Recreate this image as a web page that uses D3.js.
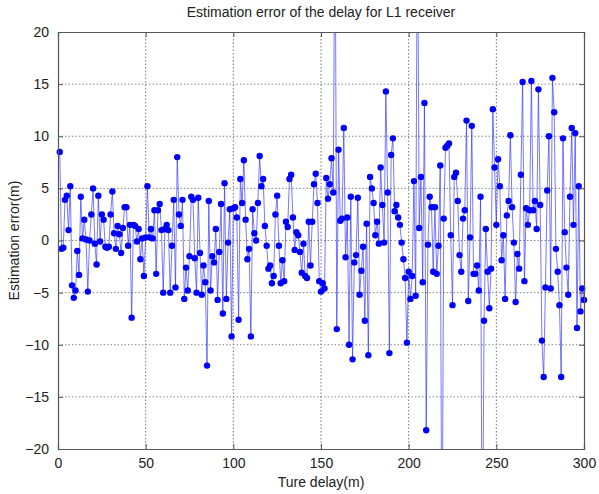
<!DOCTYPE html>
<html>
<head>
<meta charset="utf-8">
<script src="https://cdn.jsdelivr.net/npm/d3@7"></script>
<style>
    body { margin: 0; background: #fff; }
    svg text { font-family: "Liberation Sans", Arial, sans-serif; fill: #222; }
</style>
</head>
<body>
<div id="chart"></div>
<script>
// estimation error (m), one value per true delay step 1..300
// values beyond +/-20 are the spikes that leave the axes
const errA = [8.5, -0.8, -0.7, 3.9, 4.3, 1.0, 5.2, -4.3, -5.5, -4.8, -1.0, -3.3, 4.2, 0.2, 2.0, 0.1, -4.9, 0.0, 2.5, 5.0,
    -0.3, -2.3, 4.3, -0.1, 2.5, 2.0, -0.6, -0.7, -0.6, 2.5, 4.7, 0.7, -0.8, 1.4, 0.6, -1.2, 1.2, 3.2];          // 1..38
const errB = [3.2, -0.5, 1.5, -7.4, 1.5, 1.4, -0.1, 1.1, -1.8, 0.2, -3.4, 0.3, 5.2, 0.3, 1.1, 0.2, 2.9, -3.2, 2.9, 3.5,
    1.0, -5.0, 1.1, 1.5, 1.0, -5.0];                                                                             // 39..64
const errC = [-0.5, 3.9, -4.5, 8.0, 2.5, 1.4, 3.9, -5.6, -2.6, -4.8, -1.5, 4.2, 3.9, -1.7, -5.0, 4.1, -1.2, -5.2, -2.4, -4.0,
    -12.0, 3.8, -4.8, -1.5, -2.1, 1.1, -5.7, -1.1, 3.5, -7.0, 5.5, -5.6, -0.2, 3.0, -9.2, 3.1, 3.2, 2.2, -7.6, 5.9,
    3.6, 7.7, 2.0, -1.8, -0.8, -9.2, 3.0, 0.7, 0.0, 3.6, 8.1, 5.2, 5.9, 1.4, -0.5, -2.7, -2.4, -4.1, -3.4, 2.5,
    4.3, -0.5, -4.1];                                                                                            // 65..127
const errD = [-1.9, -3.9, 1.8, 1.3, 5.9, 6.3, 2.2, -0.9, 0.8];                                                    // 128..136
const errE = [0.5, -1.1, -3.1, -0.3, -3.4, -3.6, 1.8, -2.4, 1.8, 5.4, 6.4, 3.6, -3.9, -4.9, -4.1, -4.6, 6.0, 4.0, 5.4, 7.9,
    4.6, 35, -8.5, 8.7, 1.9, 2.1, 10.8, -1.6, 2.2, -10.0, 4.2, -11.4, -2.1, -1.4, 4.1, -5.2, -2.9, -0.6, -7.7, 1.6,
    -11.0, 6.1, 5.0, 3.6, 0.5, 1.8, -0.3, 7.0, 3.4, -0.2, 14.3, 4.6, -10.8, 8.2, 9.8, 2.8, 3.4, 2.2, 1.5, -0.2,
    -1.8, -3.6, -9.8, -3.0, -5.6, -3.4, 5.7, -5.3, 35, 1.2, 6.1, -4.0, 13.2, -18.2, -0.4, 4.2];               // 137..212
const errF = [3.2, -3.0, 3.2, -3.2, -0.5, 7.2, -35, 2.1, 8.9];                                                    // 213..221
const errG = [9.1, 9.3, 0.5, -6.2, 6.1, 6.5, 3.8, -1.4, -3.0, 2.1, 2.9, 11.5, -5.8, 0.3, 11.0, -3.2, -3.2, -2.4, -4.8, 4.2,
    -35, -7.7, 1.1, -3.0, -6.5, -2.7, 12.6, 7.0, 1.5, 7.8, 5.2, -1.9, 0.5, -5.6, 2.4, 3.8, 10.1];               // 222..258
const errH = [3.2, -0.2, -5.9, -1.3, -2.7, 6.3, 15.2, -3.9, 3.1, 1.5, 2.9, 15.3, 2.9, 3.8, 1.1, 14.5, 3.4, -9.6, -13.1, -4.5,
    4.8, 10.0, -4.6, 15.6, 12.3, -0.8, -3.0, -6.2, -13.1, 9.8, 0.8, -2.6, -5.2, 4.2, 10.8, 1.5, 10.3, -8.4, 5.2, -6.8,
    -4.6, -5.7];                                                                                                 // 259..300

const errors = [...errA, ...errB, ...errC, ...errD, ...errE, ...errF, ...errG, ...errH];
const delays = errors.map((d, i) => i + 1);

const xTicks = [0, 50, 100, 150, 200, 250, 300];
const yTicks = [-20, -15, -10, -5, 0, 5, 10, 15, 20];

const titleText = 'Estimation error of the delay for L1 receiver';
const xLabel = 'Ture delay(m)';
const yLabel = 'Estimation error(m)';

function drawChart() {
    const margin = { top: 32, right: 15, bottom: 45, left: 58 };
    const totalW = 599, totalH = 494;
    const width = totalW - margin.left - margin.right;
    const height = totalH - margin.top - margin.bottom;

    const svg = d3.select('#chart').append('svg')
        .attr('width', totalW)
        .attr('height', totalH);

    const g = svg.append('g')
        .attr('transform', `translate(${margin.left},${margin.top})`);

    const x = d3.scaleLinear().domain([0, 300]).range([0, width]);
    const y = d3.scaleLinear().domain([-20, 20]).range([height, 0]);

    // grid
    g.append('g').selectAll('line')
        .data(xTicks.slice(1, -1))
        .join('line')
        .attr('x1', d => x(d)).attr('x2', d => x(d))
        .attr('y1', 0).attr('y2', height)
        .attr('stroke', '#777')
        .attr('stroke-width', 1)
        .attr('stroke-dasharray', '1.5,2');

    g.append('g').selectAll('line')
        .data(yTicks.slice(1, -1))
        .join('line')
        .attr('x1', 0).attr('x2', width)
        .attr('y1', d => y(d)).attr('y2', d => y(d))
        .attr('stroke', '#888')
        .attr('stroke-width', 1)
        .attr('stroke-dasharray', '1.5,2');

    // data
    g.append('clipPath').attr('id', 'plotClip')
        .append('rect').attr('width', width).attr('height', height);

    const line = d3.line()
        .x((d, i) => x(delays[i]))
        .y(d => y(d));

    g.append('path')
        .datum(errors)
        .attr('clip-path', 'url(#plotClip)')
        .attr('fill', 'none')
        .attr('stroke', '#2a2aff')
        .attr('stroke-opacity', 0.7)
        .attr('stroke-width', 0.9)
        .attr('d', line);

    const pts = errors.map((d, i) => ({ x: delays[i], y: d })).filter(p => p.y >= -20 && p.y <= 20);
    g.append('g').selectAll('circle')
        .data(pts)
        .join('circle')
        .attr('cx', d => x(d.x))
        .attr('cy', d => y(d.y))
        .attr('r', 3.2)
        .attr('fill', '#0000ff');

    // axes (ticks inside, like matlab)
    const axisColor = '#555';
    const xAxisB = g.append('g').attr('transform', `translate(0,${height})`)
        .call(d3.axisBottom(x).tickValues(xTicks).tickSize(-5).tickPadding(9));
    const xAxisT = g.append('g')
        .call(d3.axisTop(x).tickValues(xTicks).tickSize(-5).tickFormat(''));
    const yAxisL = g.append('g')
        .call(d3.axisLeft(y).tickValues(yTicks).tickSize(-5).tickPadding(9));
    const yAxisR = g.append('g').attr('transform', `translate(${width},0)`)
        .call(d3.axisRight(y).tickValues(yTicks).tickSize(-5).tickFormat(''));

    [xAxisB, xAxisT, yAxisL, yAxisR].forEach(a => {
        a.select('.domain').attr('stroke', axisColor).attr('stroke-width', 1.2);
        a.selectAll('.tick line').attr('stroke', axisColor);
        a.selectAll('text').style('font-size', '14px').attr('fill', '#222');
    });

    // labels
    svg.append('text')
        .attr('x', margin.left + width / 2)
        .attr('y', 17)
        .style('text-anchor', 'middle')
        .style('font-size', '14px')
        .text(titleText);

    svg.append('text')
        .attr('x', margin.left + width / 2)
        .attr('y', 487)
        .style('text-anchor', 'middle')
        .style('font-size', '14px')
        .text(xLabel);

    svg.append('text')
        .attr('transform', 'rotate(-90)')
        .attr('x', -(margin.top + height / 2))
        .attr('y', 19)
        .style('text-anchor', 'middle')
        .style('font-size', '14px')
        .text(yLabel);
}

drawChart();
</script>
</body>
</html>
